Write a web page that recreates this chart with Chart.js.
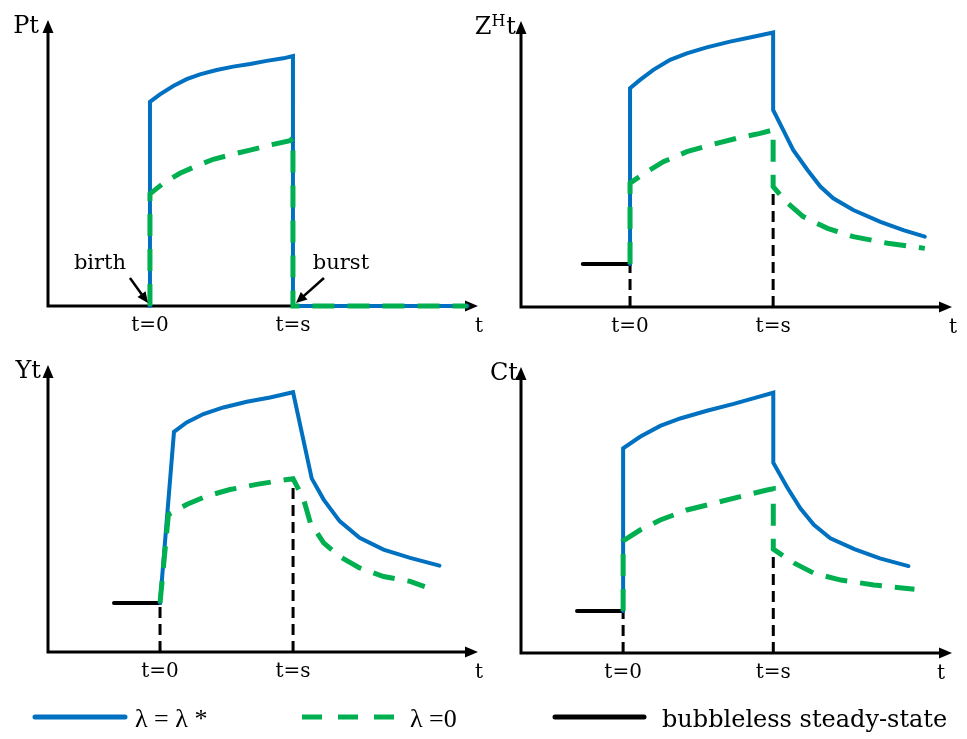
<!DOCTYPE html>
<html>
<head>
<meta charset="utf-8">
<script src="https://cdn.jsdelivr.net/npm/chart.js@4.4.1/dist/chart.umd.min.js"></script>
<style>
  body { margin: 0; background: #fff; }
  #wrap { position: relative; width: 967px; height: 739px; overflow: hidden; }
  canvas { position: absolute; }
</style>
</head>
<body>
<div id="wrap">
  <canvas id="chartP" width="490" height="340" style="left:0;top:0"></canvas>
  <canvas id="chartZ" width="507" height="340" style="left:460px;top:0"></canvas>
  <canvas id="chartY" width="490" height="340" style="left:0;top:340px"></canvas>
  <canvas id="chartC" width="507" height="340" style="left:460px;top:340px"></canvas>
  <canvas id="legend" width="967" height="49" style="left:0;top:690px"></canvas>
</div>
<script>
// time axis: t=0 -> 0, t=s -> 10 ; values in units of the y-axis height (0..100)
const tickValues = [0, 10];
const tickLabels = ['t=0', 't=s'];
const seriesNames = ['λ = λ *', 'λ =0', 'bubbleless steady-state'];

// P_t
const pBlueT  = [0, 0, 0.7, 1.63, 2.57, 3.5, 4.66, 5.82, 7.0, 8.16, 9.32, 10, 10, 22.2];
const pBlueY  = [0, 71.4, 74.0, 76.9, 79.3, 81.0, 82.5, 83.7, 84.6, 85.7, 86.6, 87.4, 0, 0];
const pGreenT = [0, 0, 0.93, 2.1, 3.27, 4.43, 5.82, 7.0, 8.62, 9.79, 10, 10, 22.2];
const pGreenY = [0, 39.2, 42.9, 46.4, 49.0, 51.3, 53.1, 54.5, 56.5, 57.8, 58.7, 0, 0];

// Z^H_t
const zBlueT  = [0, 0, 0.7, 1.63, 2.8, 3.97, 5.36, 6.99, 8.62, 10, 10, 10.7, 11.4, 12.4, 13.3, 14.2, 15.6, 17.5, 19.1, 20.6];
const zBlueY  = [15, 76.5, 79.4, 82.9, 86.4, 88.7, 90.8, 92.8, 94.5, 96.0, 68.9, 61.9, 54.9, 47.9, 42.1, 38.0, 33.9, 29.8, 26.9, 24.6];
const zGreenT = [0, 0, 1.17, 2.33, 3.97, 5.59, 7.46, 9.09, 10, 10, 10.9, 12.1, 13.8, 15.6, 18.0, 20.6];
const zGreenY = [15, 43.3, 47.3, 50.8, 54.3, 56.6, 59.0, 60.7, 61.9, 42.1, 36.8, 31.6, 27.5, 24.6, 22.3, 20.5];
const zSteadyT = [-3.3, 0];
const zSteadyY = [15, 15];
const zGuideY = [15, 42.1];

// Y_t
const yBlueT  = [0, 1.05, 2.0, 3.26, 4.76, 6.52, 8.27, 10, 11.4, 12.3, 13.5, 15.0, 16.8, 18.8, 21.0];
const yBlueY  = [17.1, 76.7, 80.0, 82.9, 85.2, 87.2, 88.7, 90.5, 60.5, 53.1, 45.6, 39.8, 35.7, 32.8, 30.1];
const yGreenT = [0, 0.63, 2.0, 3.5, 5.26, 7.27, 9.27, 10, 10.8, 11.3, 12.3, 13.5, 15.0, 16.8, 18.8, 19.9];
const yGreenY = [17.1, 47.9, 51.4, 54.3, 56.6, 58.4, 59.9, 60.4, 53.1, 45.0, 38.0, 33.3, 29.3, 26.3, 24.6, 22.8];
const ySteadyT = [-3.46, 0];
const ySteadyY = [17.1, 17.1];
const yGuideY = [17.1, 60.2];

// C_t
const cBlueT  = [0, 0, 1.13, 2.47, 3.8, 5.58, 7.36, 8.9, 10, 10, 10.9, 11.8, 12.7, 13.8, 15.4, 17.1, 19.0];
const cBlueY  = [14.7, 71.6, 75.6, 79.4, 82.0, 84.7, 87.1, 89.4, 91.0, 66.5, 58.1, 50.6, 44.8, 40.1, 36.3, 33.1, 30.4];
const cGreenT = [0, 0, 1.13, 2.47, 4.24, 6.0, 7.8, 9.58, 10, 10, 11.4, 12.7, 14.5, 16.7, 19.4];
const cGreenY = [14.7, 39.2, 43.0, 46.5, 50.0, 52.3, 54.7, 57.0, 57.4, 36.3, 31.4, 27.9, 25.5, 23.8, 22.3];
const cSteadyT = [-3.07, 0];
const cSteadyY = [14.7, 14.7];
const cGuideY = [14.7, 35.5];

const BLUE = '#0070C0';
const GREEN = '#00B050';
const SERIF = '"DejaVu Serif", serif';

function pts(T, Y) {
    return T.map((t, i) => ({ x: t, y: Y[i] }));
}

// axes with arrow heads, tick labels and axis titles
const axesPlugin = {
    id: 'arrowAxes',
    beforeDatasetsDraw(chart) {
        const ctx = chart.ctx;
        const a = chart.chartArea;
        ctx.save();
        ctx.strokeStyle = '#000';
        ctx.fillStyle = '#000';
        ctx.lineWidth = 3;
        ctx.beginPath();
        ctx.moveTo(a.left, a.bottom);
        ctx.lineTo(a.right - 8, a.bottom);
        ctx.moveTo(a.left, a.bottom + 1.5);
        ctx.lineTo(a.left, a.top + 8);
        ctx.stroke();
        ctx.beginPath();
        ctx.moveTo(a.right, a.bottom);
        ctx.lineTo(a.right - 13, a.bottom - 5.5);
        ctx.lineTo(a.right - 13, a.bottom + 5.5);
        ctx.closePath();
        ctx.fill();
        ctx.beginPath();
        ctx.moveTo(a.left, a.top);
        ctx.lineTo(a.left - 5.5, a.top + 13);
        ctx.lineTo(a.left + 5.5, a.top + 13);
        ctx.closePath();
        ctx.fill();
        ctx.restore();
    },
    afterDraw(chart, args, opts) {
        const ctx = chart.ctx;
        const a = chart.chartArea;
        const xs = chart.scales.x;
        ctx.save();
        ctx.fillStyle = '#000';
        ctx.textBaseline = 'alphabetic';
        ctx.font = '20px ' + SERIF;
        ctx.textAlign = 'center';
        tickValues.forEach((v, i) => {
            ctx.fillText(tickLabels[i], xs.getPixelForValue(v), a.bottom + 25);
        });
        ctx.fillText('t', a.right + opts.tDx, a.bottom + 26);

        // y axis title
        ctx.textAlign = 'right';
        const base = a.top + 13;
        const right = a.left + opts.titleDx;
        if (opts.sup) {
            ctx.font = '24px ' + SERIF;
            const wT = ctx.measureText('t').width;
            ctx.fillText('t', right, base);
            ctx.font = '16px ' + SERIF;
            const wH = ctx.measureText(opts.sup).width;
            ctx.fillText(opts.sup, right - wT - 1, base - 8);
            ctx.font = '24px ' + SERIF;
            ctx.fillText(opts.title, right - wT - wH - 1, base);
        } else {
            ctx.font = '24px ' + SERIF;
            ctx.fillText(opts.title, right, base);
        }

        // birth / burst notes
        (opts.notes || []).forEach(n => {
            const px = xs.getPixelForValue(n.at);
            ctx.font = '21px ' + SERIF;
            ctx.textAlign = 'center';
            ctx.fillText(n.text, px + n.dx, a.bottom - 37);
            const x0 = px + n.ax, y0 = a.bottom - 28;
            const x1 = px + (n.ax < 0 ? -2 : 3), y1 = a.bottom - 3;
            const ang = Math.atan2(y1 - y0, x1 - x0);
            ctx.strokeStyle = '#000';
            ctx.lineWidth = 2.5;
            ctx.beginPath();
            ctx.moveTo(x0, y0);
            ctx.lineTo(x1 - 8 * Math.cos(ang), y1 - 8 * Math.sin(ang));
            ctx.stroke();
            ctx.beginPath();
            ctx.moveTo(x1, y1);
            ctx.lineTo(x1 - 11 * Math.cos(ang) + 5 * Math.sin(ang), y1 - 11 * Math.sin(ang) - 5 * Math.cos(ang));
            ctx.lineTo(x1 - 11 * Math.cos(ang) - 5 * Math.sin(ang), y1 - 11 * Math.sin(ang) + 5 * Math.cos(ang));
            ctx.closePath();
            ctx.fill();
        });
        ctx.restore();
    }
};

function makePanel(id, cfg) {
    const datasets = [];
    if (cfg.guideY) {
        const g = [];
        tickValues.forEach((v, i) => {
            g.push({ x: v, y: 0 }, { x: v, y: cfg.guideY[i] }, { x: v + 0.01, y: null });
        });
        datasets.push({ data: g, borderColor: '#000', borderWidth: 3, borderDash: [11, 6], order: 3 });
    }
    if (cfg.steadyT) {
        datasets.push({ data: pts(cfg.steadyT, cfg.steadyY), borderColor: '#000', borderWidth: 4,
            borderCapStyle: 'round', order: 2 });
    }
    datasets.push({ data: pts(cfg.blueT, cfg.blueY), borderColor: BLUE, borderWidth: 4, order: 1,
        borderCapStyle: 'round' });
    datasets.push({ data: pts(cfg.greenT, cfg.greenY), borderColor: GREEN, borderWidth: 5,
        borderDash: [22, 13], order: 0 });
    datasets.forEach(d => { d.clip = false; d.pointRadius = 0; d.fill = false; d.spanGaps = false; });

    return new Chart(document.getElementById(id), {
        type: 'line',
        data: { datasets },
        options: {
            responsive: false,
            animation: false,
            devicePixelRatio: 1,
            layout: { padding: cfg.pad },
            elements: { line: { tension: 0 } },
            scales: {
                x: { type: 'linear', display: false, min: cfg.xRange[0], max: cfg.xRange[1] },
                y: { display: false, min: 0, max: 100 }
            },
            plugins: {
                legend: { display: false },
                tooltip: { enabled: false },
                arrowAxes: { title: cfg.title, sup: cfg.sup, titleDx: cfg.titleDx, tDx: cfg.tDx, notes: cfg.notes }
            }
        },
        plugins: [axesPlugin]
    });
}

makePanel('chartP', {
    title: 'Pt', titleDx: -9, tDx: 1,
    pad: { left: 48, right: 12, top: 20, bottom: 34 },
    xRange: [-7.13, 22.94],
    blueT: pBlueT, blueY: pBlueY, greenT: pGreenT, greenY: pGreenY,
    notes: [{ text: 'birth', at: 0, dx: -50, ax: -20 }, { text: 'burst', at: 10, dx: 48, ax: 31 }]
});
makePanel('chartZ', {
    title: 'Z', sup: 'H', titleDx: -5, tDx: 1,
    pad: { left: 61, right: 15, top: 21, bottom: 33 },
    xRange: [-7.62, 22.5],
    blueT: zBlueT, blueY: zBlueY, greenT: zGreenT, greenY: zGreenY,
    steadyT: zSteadyT, steadyY: zSteadyY, guideY: zGuideY
});
makePanel('chartY', {
    title: 'Yt', titleDx: -7, tDx: 1,
    pad: { left: 48, right: 12, top: 25, bottom: 28 },
    xRange: [-8.42, 23.9],
    blueT: yBlueT, blueY: yBlueY, greenT: yGreenT, greenY: yGreenY,
    steadyT: ySteadyT, steadyY: ySteadyY, guideY: yGuideY
});
makePanel('chartC', {
    title: 'Ct', titleDx: -3, tDx: -11,
    pad: { left: 61, right: 15, top: 27, bottom: 27 },
    xRange: [-6.8, 21.9],
    blueT: cBlueT, blueY: cBlueY, greenT: cGreenT, greenY: cGreenY,
    steadyT: cSteadyT, steadyY: cSteadyY, guideY: cGuideY
});

// legend strip
(function drawLegend() {
    const ctx = document.getElementById('legend').getContext('2d');
    const y = 27;
    ctx.lineWidth = 5;
    ctx.lineCap = 'round';
    ctx.strokeStyle = BLUE;
    ctx.beginPath(); ctx.moveTo(35, y); ctx.lineTo(125, y); ctx.stroke();
    ctx.lineCap = 'butt';
    ctx.strokeStyle = GREEN;
    ctx.setLineDash([20, 16]);
    ctx.beginPath(); ctx.moveTo(302, y); ctx.lineTo(396, y); ctx.stroke();
    ctx.setLineDash([]);
    ctx.lineCap = 'round';
    ctx.strokeStyle = '#000';
    ctx.beginPath(); ctx.moveTo(555, y); ctx.lineTo(644, y); ctx.stroke();

    ctx.fillStyle = '#000';
    ctx.textBaseline = 'alphabetic';
    ctx.font = '26px "Liberation Serif", serif';
    ctx.fillText(seriesNames[0], 135, y + 10);
    ctx.fillText(seriesNames[1], 410, y + 10);
    ctx.font = '24px ' + SERIF;
    ctx.fillText(seriesNames[2], 662, y + 10);
})();
</script>
</body>
</html>
